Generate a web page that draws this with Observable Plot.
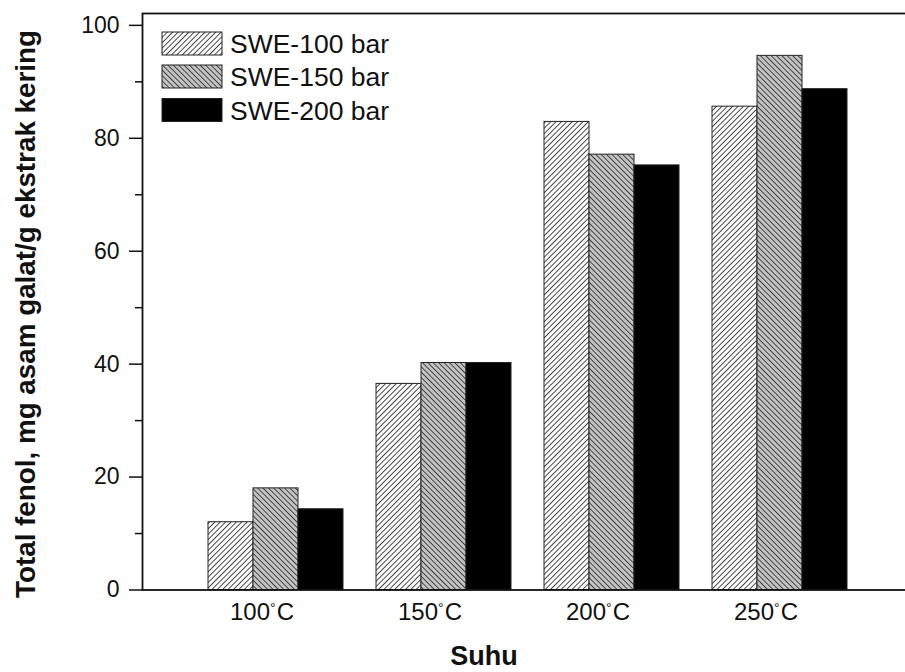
<!DOCTYPE html>
<html><head><meta charset="utf-8">
<script src="https://cdn.jsdelivr.net/npm/d3@7"></script>
<script src="https://cdn.jsdelivr.net/npm/@observablehq/plot@0.6"></script>
<style>
body{margin:0;overflow:hidden;background:#fff}
#chart svg{font-family:Arial,"Liberation Sans",sans-serif;display:block}
</style>
</head><body><div id="chart"></div>
<script>
// ---- data ----
const groups = ["100°C", "150°C", "200°C", "250°C"];
const series = ["SWE-100 bar", "SWE-150 bar", "SWE-200 bar"];
const swe100 = [12.0, 36.5, 82.9, 85.6];
const swe150 = [18.0, 40.2, 77.1, 94.6];
const swe200 = [14.3, 40.2, 75.2, 88.7];
const majorTicks = [0, 20, 40, 60, 80, 100];
const minorTicks = [10, 30, 50, 70, 90];
const yTitle = "Total fenol, mg asam galat/g ekstrak kering";
const xTitle = "Suhu";

// ---- layout ----
const W = 905, H = 672;
const pLeft = 142, pRight = 913.8, pTop = 13, pBottom = 589.5;
const pi = 0.197, po = 0.394;
const step = (pRight - pLeft) / (groups.length - pi + 2 * po);
const each = step * (1 - pi) / series.length;
const fills = ["url(#hatch100)", "url(#hatch150)", "#000"];
const valuesBySeries = [swe100, swe150, swe200];
const tables = series.map((s, i) => groups.map((g, j) => ({group: g, series: s, value: valuesBySeries[i][j]})));
const yMax = 102.1;

const plot = Plot.plot({
  width: W, height: H,
  marginLeft: pLeft, marginTop: pTop, marginBottom: H - pBottom, marginRight: W - pRight,
  x: {type: "band", domain: groups, range: [pLeft, pRight], paddingInner: pi, paddingOuter: po, label: null},
  y: {domain: [0, yMax], range: [pBottom, pTop], label: null},
  style: {fontFamily: "Arial, 'Liberation Sans', sans-serif", background: "white", color: "#111"},
  marks: [
    ...tables.map((data, i) => Plot.barY(data, {
      x: "group", y: "value", fill: fills[i], stroke: "#222", strokeWidth: 1,
      insetLeft: i * each, insetRight: (series.length - 1 - i) * each
    })),
    Plot.frame({stroke: "#111", strokeWidth: 1.8}),
    Plot.axisY(majorTicks, {tickSize: 13, tickPadding: 10, fontSize: 23, strokeWidth: 1.5, label: null}),
    Plot.axisY(minorTicks, {tickSize: 7, tickFormat: () => "", strokeWidth: 1.5, label: null}),
    Plot.axisX({tickSize: 0, tickPadding: 13, fontSize: 24, dx: -14, label: null})
  ]
});
document.getElementById("chart").appendChild(plot);

const svg = d3.select(plot);
const defs = svg.insert("defs", ":first-child");
function hatch(id, bg, angle) {
  const p = defs.append("pattern").attr("id", id).attr("patternUnits", "userSpaceOnUse")
    .attr("width", 3.8).attr("height", 3.8).attr("patternTransform", `rotate(${angle})`);
  p.append("rect").attr("width", 3.8).attr("height", 3.8).attr("fill", bg);
  p.append("line").attr("x1", 0.5).attr("y1", 0).attr("x2", 0.5).attr("y2", 3.8)
    .attr("stroke", "#333").attr("stroke-width", 0.9);
}
hatch("hatch100", "#fff", 45);
hatch("hatch150", "#c4c4c4", -45);

// small raised degree sign in x tick labels
svg.selectAll("g[aria-label='x-axis tick label'] text").each(function () {
  const t = d3.select(this);
  const s = t.text();
  const k = s.indexOf("°");
  if (k < 0) return;
  t.text(null);
  t.append("tspan").text(s.slice(0, k));
  t.append("tspan").attr("font-size", 14).attr("dy", -7).text("°");
  t.append("tspan").attr("dy", 7).attr("dx", 1).text(s.slice(k + 1));
});

// legend
const leg = svg.append("g").attr("text-anchor", "start");
const rowY = [43.5, 76.5, 110];
series.forEach((s, i) => {
  leg.append("rect").attr("x", 162).attr("y", rowY[i] - 11.5).attr("width", 60).attr("height", 23)
    .attr("fill", fills[i]).attr("stroke", "#222").attr("stroke-width", 1);
  leg.append("text").attr("x", 230).attr("y", rowY[i] + 9.5).attr("font-size", 26.5).attr("fill", "#111").text(s);
});

// axis titles
svg.append("text").attr("transform", `translate(35,314) rotate(-90)`).attr("text-anchor", "middle")
  .attr("font-size", 27.8).attr("font-weight", "bold").attr("fill", "#111").text(yTitle);
svg.append("text").attr("x", 484).attr("y", 665).attr("text-anchor", "middle")
  .attr("font-size", 27).attr("font-weight", "bold").attr("fill", "#111").text(xTitle);
</script>
</body></html>
